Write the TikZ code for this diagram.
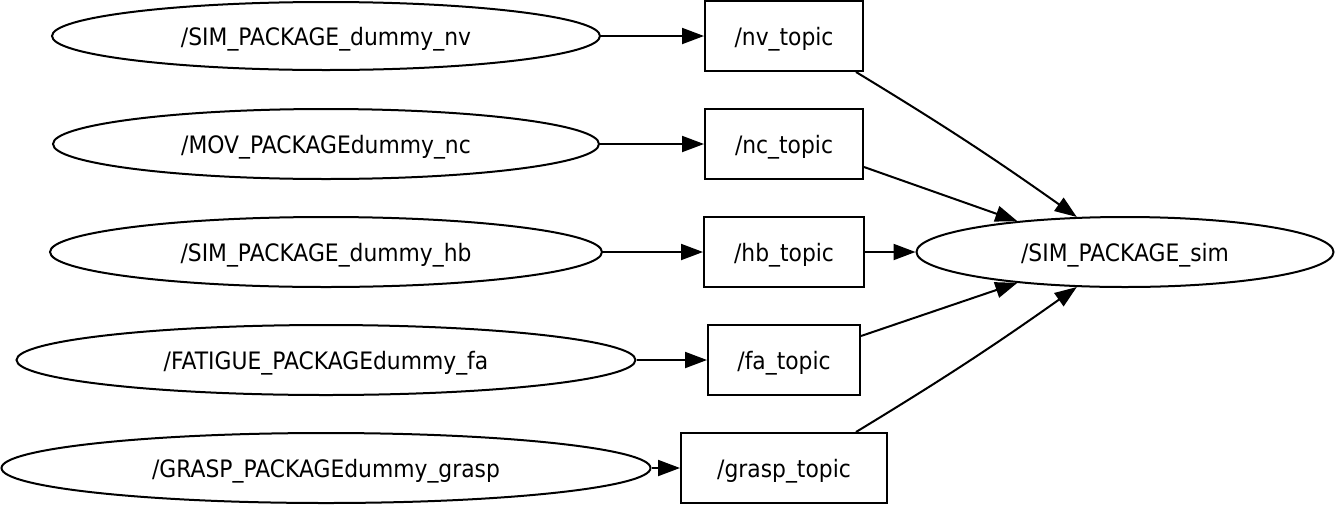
\documentclass[tikz,border=0pt]{standalone}
\usepackage{fontspec}
\setmainfont{DejaVu Sans}
\newfontfamily\labelfont[FakeStretch=0.91]{DejaVu Sans}
\usetikzlibrary{arrows.meta,shapes.geometric}

\tikzset{
  nodestyle/.style={draw, ellipse, line width=2pt, inner sep=0pt, text height=18pt, text depth=0pt, font=\labelfont\fontsize{24}{26}\selectfont},
  topicstyle/.style={draw, rectangle, line width=2pt, inner sep=0pt, minimum height=70pt, text height=18pt, text depth=0pt, font=\labelfont\fontsize{24}{26}\selectfont},
  edge/.style={line width=2pt, -{Triangle[length=22pt,width=16pt]}}
}

\begin{document}
\begin{tikzpicture}[x=1pt,y=-1pt]
\useasboundingbox (0,0) rectangle (1335,504);
% publishers
\node[nodestyle, minimum width=548pt, minimum height=68pt] (nv) at (326,36) {/SIM\_PACKAGE\_dummy\_nv};
\node[nodestyle, minimum width=546pt, minimum height=70pt] (nc) at (326,144) {/MOV\_PACKAGEdummy\_nc};
\node[nodestyle, minimum width=552pt, minimum height=70pt] (hb) at (326,252) {/SIM\_PACKAGE\_dummy\_hb};
\node[nodestyle, minimum width=619pt, minimum height=70pt] (fa) at (326,360) {/FATIGUE\_PACKAGEdummy\_fa};
\node[nodestyle, minimum width=649pt, minimum height=70pt] (grasp) at (326,468) {/GRASP\_PACKAGEdummy\_grasp};
% topics
\node[topicstyle, minimum width=158pt] (nvtopic) at (784,36) {/nv\_topic};
\node[topicstyle, minimum width=158pt] (nctopic) at (784,144) {/nc\_topic};
\node[topicstyle, minimum width=160pt] (hbtopic) at (784,252) {/hb\_topic};
\node[topicstyle, minimum width=152pt] (fatopic) at (784,360) {/fa\_topic};
\node[topicstyle, minimum width=206pt] (grasptopic) at (784,468) {/grasp\_topic};
% subscriber
\node[nodestyle, minimum width=417pt, minimum height=70pt] (sim) at (1125,252) {/SIM\_PACKAGE\_sim};

\draw[edge] (nv) -- (nvtopic);
\draw[edge] (nc) -- (nctopic);
\draw[edge] (hb) -- (hbtopic);
\draw[edge] (fa) -- (fatopic);
\draw[edge] (grasp) -- (grasptopic);

\draw[edge] ([xshift=-8pt]nvtopic.south east) to[bend left=2] (sim.144);
\draw[edge] ([yshift=-59pt]nctopic.north east) -- (sim.164);
\draw[edge] (hbtopic) -- (sim);
\draw[edge] ([yshift=60pt]fatopic.south east) -- (sim.196);
\draw[edge] ([xshift=-32pt]grasptopic.north east) to[bend right=2] (sim.216);
\end{tikzpicture}
\end{document}
